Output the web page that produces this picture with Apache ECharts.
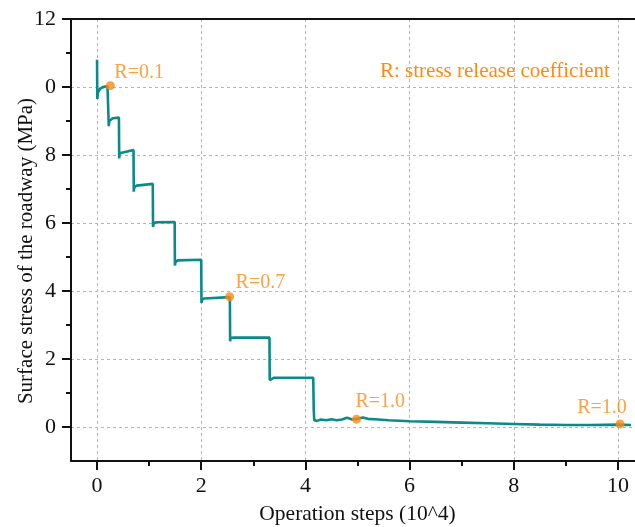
<!DOCTYPE html>
<html>
<head>
<meta charset="utf-8">
<script src="https://cdn.jsdelivr.net/npm/echarts@6/dist/echarts.min.js"></script>
<style>
  html, body { margin: 0; padding: 0; background: #fff; }
  #chart { width: 635px; height: 527px; }
</style>
</head>
<body>
<div id="chart"></div>
<script>
// Operation steps (10^4) and surface stress (MPa) along the run
const stepsX = [0, 0.005, 0.02, 0.06, 0.12, 0.2, 0.22, 0.225, 0.235, 0.26, 0.3, 0.42,
  0.425, 0.435, 0.47, 0.7, 0.705, 0.715, 0.76, 1.07, 1.075, 1.085, 1.13, 1.49,
  1.495, 1.505, 1.55, 2.0, 2.005, 2.015, 2.06, 2.55, 2.555, 2.565, 2.62, 3.31,
  3.315, 3.33, 3.4, 4.15, 4.16, 4.17, 4.22, 4.3, 4.4, 4.5, 4.6, 4.7, 4.8, 4.9,
  5.0, 5.1, 5.2, 5.4, 5.6, 6.0, 6.5, 7.0, 7.5, 8.0, 8.5, 9.0, 9.5, 10.0, 10.25];
const stressY = [10.8, 9.65, 9.85, 9.95, 10.0, 10.03, 10.03, 8.85, 9.0, 9.05, 9.08, 9.1,
  7.9, 8.05, 8.1, 8.15, 6.92, 7.05, 7.1, 7.15, 5.88, 5.98, 6.02, 6.03,
  4.75, 4.85, 4.9, 4.92, 3.65, 3.75, 3.78, 3.82, 2.52, 2.62, 2.63, 2.63,
  1.38, 1.43, 1.45, 1.45, 0.5, 0.2, 0.18, 0.22, 0.2, 0.23, 0.2, 0.22, 0.27, 0.22,
  0.24, 0.28, 0.24, 0.22, 0.2, 0.17, 0.15, 0.13, 0.11, 0.09, 0.07, 0.06, 0.06, 0.07, 0.06];

// Stress release coefficient marks
const releaseR = ['0.1', '0.7', '1.0', '1.0'];
const releaseX = [0.255, 2.545, 4.98, 10.04];
const releaseY = [10.04, 3.83, 0.23, 0.09];

// Tick labels as printed on the axes
const xTickValues = [0, 2, 4, 6, 8, 10];
const xTickLabels = ['0', '2', '4', '6', '8', '10'];
const xMinorValues = [1, 3, 5, 7, 9];
const yTickValues = [0, 2, 4, 6, 8, 10, 12];
const yTickLabels = ['0', '2', '4', '6', '8', '0', '12'];
const yMinorValues = [1, 3, 5, 7, 9, 11];

const font = 'Liberation Serif, Times New Roman, serif';
const orange = '#ff8a10';
const teal = '#0a8a88';
const ink = '#111';
const gridDash = { color: '#b4b4b4', width: 1, type: [3, 3] };

// label placement for each R mark
const labelPlacement = [
  { align: 'left', offset: [4, 7] },
  { align: 'left', offset: [6, 5] },
  { align: 'left', offset: [-1, 2] },
  { align: 'center', offset: [-18, 3] }
];

const lineData = stepsX.map((x, i) => [x, stressY[i]]);
const markData = releaseX.map((x, i) => ({
  value: [x, releaseY[i], releaseR[i]],
  label: labelPlacement[i]
}));

const chart = echarts.init(document.getElementById('chart'));
chart.setOption({
  animation: false,
  backgroundColor: '#fff',
  grid: { left: 71, top: 19, width: 573, bottom: 66, containLabel: false, outerBoundsMode: 'none' },
  xAxis: [
    {
      type: 'value', min: -0.5, max: 10.5, position: 'bottom',
      name: 'Operation steps (10^4)', nameLocation: 'middle', nameGap: 42, nameMoveOverlap: false,
      nameTextStyle: { fontFamily: font, fontSize: 21.5, color: ink },
      axisLine: { show: true, onZero: false, lineStyle: { color: ink, width: 2 } },
      axisTick: { show: true, length: 9, inside: false, customValues: xTickValues, lineStyle: { color: ink, width: 2 } },
      axisLabel: {
        customValues: xTickValues, margin: 14,
        fontFamily: font, fontSize: 22, color: ink,
        formatter: v => xTickLabels[xTickValues.indexOf(v)]
      },
      splitLine: { show: true, lineStyle: gridDash }
    },
    {
      type: 'value', min: -0.5, max: 10.5, position: 'bottom',
      axisLine: { show: false, onZero: false },
      axisTick: { show: true, length: 5, customValues: xMinorValues, lineStyle: { color: ink, width: 2 } },
      axisLabel: { show: false },
      splitLine: { show: false }
    },
    {
      type: 'value', min: -0.5, max: 10.5, position: 'top',
      axisLine: { show: true, onZero: false, lineStyle: { color: ink, width: 2 } },
      axisTick: { show: false }, axisLabel: { show: false }, splitLine: { show: false }
    }
  ],
  yAxis: [
    {
      type: 'value', min: -1, max: 12, position: 'left',
      name: 'Surface stress of the roadway (MPa)', nameLocation: 'middle', nameGap: 34, nameMoveOverlap: false,
      nameTextStyle: { fontFamily: font, fontSize: 21, color: ink, padding: [0, 22, 0, 0] },
      axisLine: { show: true, onZero: false, lineStyle: { color: ink, width: 2 } },
      axisTick: { show: true, length: 9, customValues: yTickValues, lineStyle: { color: ink, width: 2 } },
      axisLabel: {
        customValues: yTickValues, margin: 15,
        fontFamily: font, fontSize: 22, color: ink,
        formatter: v => yTickLabels[yTickValues.indexOf(v)]
      },
      splitLine: { show: true, lineStyle: gridDash }
    },
    {
      type: 'value', min: -1, max: 12, position: 'left',
      axisLine: { show: false, onZero: false },
      axisTick: { show: true, length: 5, customValues: yMinorValues, lineStyle: { color: ink, width: 2 } },
      axisLabel: { show: false },
      splitLine: { show: false }
    }
  ],
  graphic: [
    {
      type: 'text', left: 380, top: 61,
      style: { text: 'R: stress release coefficient', fontFamily: font, fontSize: 21, fill: orange }
    }
  ],
  series: [
    {
      type: 'line', xAxisIndex: 0, yAxisIndex: 0,
      data: lineData, showSymbol: false, smooth: false,
      lineStyle: { color: teal, width: 2.6 }, z: 3
    },
    {
      type: 'scatter', xAxisIndex: 0, yAxisIndex: 0,
      data: markData, symbolSize: 9,
      itemStyle: { color: orange }, z: 5,
      label: {
        show: true, formatter: p => 'R=' + p.value[2],
        fontFamily: font, fontSize: 20, color: orange,
        position: 'top', overflow: 'none'
      }
    }
  ]
});
</script>
</body>
</html>
